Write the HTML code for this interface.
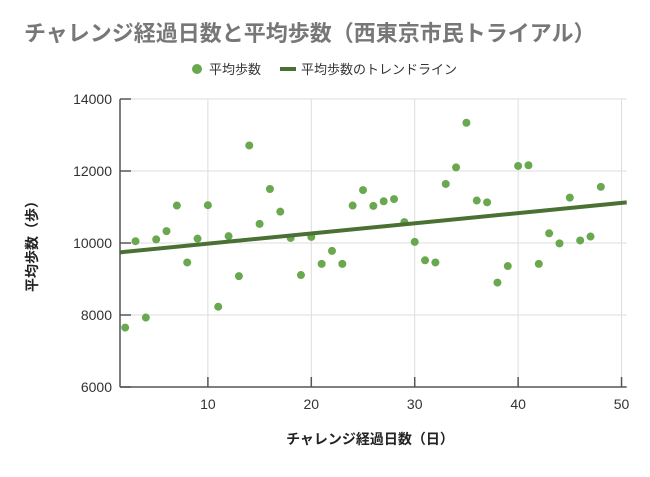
<!DOCTYPE html>
<html><head><meta charset="utf-8"><style>
body{margin:0;background:#fff;}
svg text{font-family:"Liberation Sans","Noto Sans CJK JP",sans-serif;}
</style></head><body>
<svg id="c" width="650" height="472" viewBox="0 0 650 472" xmlns="http://www.w3.org/2000/svg">
<text x="24" y="41" font-size="22" font-weight="bold" fill="#777">チャレンジ経過日数と平均歩数（西東京市民トライアル）</text>
<g>
<circle cx="197" cy="69" r="5" fill="#6aa84f"/>
<text x="209" y="74" font-size="13" fill="#333">平均歩数</text>
<line x1="280" y1="69" x2="296" y2="69" stroke="#4a7034" stroke-width="4"/>
<text x="301" y="74" font-size="13" fill="#333">平均歩数のトレンドライン</text>
</g>
<text transform="translate(37,243) rotate(-90)" text-anchor="middle" font-size="14" font-weight="bold" fill="#222">平均歩数（歩）</text>
<text x="370" y="444" text-anchor="middle" font-size="14" font-weight="bold" fill="#222">チャレンジ経過日数（日）</text>
<g id="grid"></g><g id="marks"></g><g id="axes"></g>
</svg>
<script>
const days=[2,3,4,5,6,7,8,9,10,11,12,13,14,15,16,17,18,19,20,21,22,23,24,25,26,27,28,29,30,31,32,33,34,35,36,37,38,39,40,41,42,43,44,45,46,47,48];
const steps=[7650,10050,7930,10100,10330,11040,9460,10120,11050,8230,10190,9080,12710,10530,11500,10870,10140,9110,10170,9420,9780,9420,11040,11470,11030,11160,11220,10580,10030,9520,9460,11640,12100,13340,11180,11130,8900,9360,12140,12160,9420,10270,9990,11260,10070,10180,11560];
const xTicks=[10,20,30,40,50];
const yTicks=[6000,8000,10000,12000,14000];
const xDomain=[1.5,50.5], yDomain=[6000,14000];
const L=120,R=626.7,T=99,B=387;
const sx=v=>L+(v-xDomain[0])/(xDomain[1]-xDomain[0])*(R-L);
const sy=v=>B-(v-yDomain[0])/(yDomain[1]-yDomain[0])*(B-T);
const NS="http://www.w3.org/2000/svg";
function mk(t,a,p){const e=document.createElementNS(NS,t);for(const k in a)e.setAttribute(k,a[k]);p.appendChild(e);return e;}
const grid=document.getElementById('grid'),marks=document.getElementById('marks'),axes=document.getElementById('axes');
yTicks.forEach(v=>{
 const g=mk('line',{x1:L,x2:R,y1:sy(v),y2:sy(v),stroke:'#ddd','stroke-width':1},grid);
 
 
 const tk=mk('line',{x1:L,x2:L+11,y1:sy(v),y2:sy(v),stroke:'#555','stroke-width':1.5},axes);
 
 
 const t=mk('text',{x:L-8,y:sy(v)+5,'text-anchor':'end','font-size':14,fill:'#333'},axes);
 t.textContent=v;
 
 
});
xTicks.forEach(v=>{
 const g=mk('line',{x1:sx(v),x2:sx(v),y1:T,y2:B,stroke:'#ddd','stroke-width':1},grid);
 
 
 const tk=mk('line',{x1:sx(v),x2:sx(v),y1:B-10,y2:B,stroke:'#555','stroke-width':1.5},axes);
 
 
 const t=mk('text',{x:sx(v),y:B+22,'text-anchor':'middle','font-size':14,fill:'#333'},axes);
 t.textContent=v;
 
 
});
const ya=mk('line',{x1:L,x2:L,y1:T,y2:B,stroke:'#555','stroke-width':1.5},axes);


const xa=mk('line',{x1:L,x2:R,y1:B,y2:B,stroke:'#555','stroke-width':1.5},axes);


days.forEach((d,i)=>{
 const c=mk('circle',{cx:sx(d),cy:sy(steps[i]),r:4,fill:'#6aa84f'},marks);
 
 
});
const n=days.length,mx=days.reduce((a,b)=>a+b,0)/n,my=steps.reduce((a,b)=>a+b,0)/n;
let sxy=0,sxx=0;days.forEach((d,i)=>{sxy+=(d-mx)*(steps[i]-my);sxx+=(d-mx)*(d-mx);});
const slope=sxy/sxx,ic=my-slope*mx;
const tl=mk('line',{x1:sx(xDomain[0]),y1:sy(ic+slope*xDomain[0]),x2:sx(xDomain[1]),y2:sy(ic+slope*xDomain[1]),stroke:'#4a7034','stroke-width':4},marks);


</script>
</body></html>
